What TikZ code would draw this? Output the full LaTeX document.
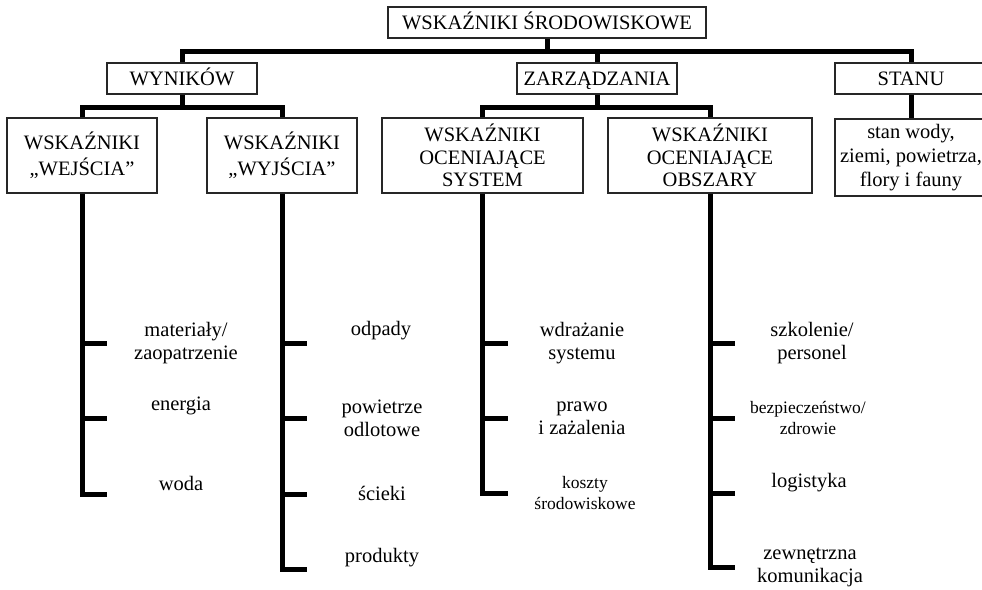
\documentclass[tikz,border=0pt]{standalone}
\usepackage{fontspec}
\setmainfont{Liberation Serif}
\begin{document}
\begin{tikzpicture}[x=1pt,y=-1pt,
  box/.style={draw=black!85, line width=1.3pt, align=center, inner sep=0pt, font=\fontsize{20.5}{24}\selectfont},
  onebox/.style={box, minimum height=31pt, text height=16.5pt, text depth=3pt},
  conn/.style={line width=5pt, line join=miter, line cap=butt},
  lbl/.style={align=center, inner sep=0pt, font=\fontsize{20.5}{23}\selectfont},
  slbl/.style={align=center, inner sep=0pt, font=\fontsize{17.5}{21}\selectfont}]
\useasboundingbox (0,0) rectangle (982,589);
\clip (0,0) rectangle (982,589);
% boxes
\node[onebox, minimum width=318pt] (root) at (547,22.5) {WSKAŹNIKI ŚRODOWISKOWE};
\node[onebox, minimum width=150pt] (wyn) at (182,78.5) {WYNIKÓW};
\node[onebox, minimum width=160pt] (zarz) at (597,78.5) {ZARZĄDZANIA};
\node[onebox, minimum width=152pt] (stanu) at (911,78.5) {STANU};
\node[box, minimum width=150pt, minimum height=75pt, font=\fontsize{20.5}{26}\selectfont] (wej) at (82,155.5) {WSKAŹNIKI\\„WEJŚCIA”};
\node[box, minimum width=150pt, minimum height=75pt, font=\fontsize{20.5}{26}\selectfont] (wyj) at (282,155.5) {WSKAŹNIKI\\„WYJŚCIA”};
\node[box, minimum width=201pt, minimum height=75pt, font=\fontsize{20.5}{22.5}\selectfont] (sys) at (482.5,155.5) {WSKAŹNIKI\\OCENIAJĄCE\\SYSTEM};
\node[box, minimum width=204pt, minimum height=75pt, font=\fontsize{20.5}{22.5}\selectfont] (obs) at (710,155.5) {WSKAŹNIKI\\OCENIAJĄCE\\OBSZARY};
\node[box, minimum width=152pt, minimum height=77pt] (stan) at (911,157.5) {stan wody,\\ziemi, powietrza,\\flory i fauny};
% bus coordinates
\coordinate (bus) at (0,51);
\coordinate (busw) at (0,107);
\coordinate (busz) at (0,107);
% top level connectors
\draw[conn] (wyn.north) -- (wyn.north |- bus) -- (stanu.north |- bus) -- (stanu.north);
\draw[conn] (root.south) -- (root.south |- bus);
\draw[conn] (zarz.north) -- (zarz.north |- bus);
\draw[conn] (wyn.south) -- (wyn.south |- busw);
\draw[conn] (wej.north) -- (wej.north |- busw) -- (wyj.north |- busw) -- (wyj.north);
\draw[conn] (zarz.south) -- (zarz.south |- busz);
\draw[conn] (sys.north) -- (sys.north |- busz) -- (obs.north |- busz) -- (obs.north);
\draw[conn] (stanu.south) -- (stan.north);
% leaf tick ends
\coordinate (a1) at (107,343); \coordinate (a2) at (107,418); \coordinate (a3) at (107,494);
\coordinate (b1) at (307,343); \coordinate (b2) at (307,418); \coordinate (b3) at (307,494); \coordinate (b4) at (307,569);
\coordinate (c1) at (508,343); \coordinate (c2) at (508,418); \coordinate (c3) at (508,493);
\coordinate (d1) at (735,343); \coordinate (d2) at (735,418); \coordinate (d3) at (735,493); \coordinate (d4) at (735,567);
\draw[conn] (wej.south) |- (a3);
\draw[conn] (wej.south |- a1) -- (a1);
\draw[conn] (wej.south |- a2) -- (a2);
\draw[conn] (wyj.south) |- (b4);
\draw[conn] (wyj.south |- b1) -- (b1);
\draw[conn] (wyj.south |- b2) -- (b2);
\draw[conn] (wyj.south |- b3) -- (b3);
\draw[conn] (sys.south) |- (c3);
\draw[conn] (sys.south |- c1) -- (c1);
\draw[conn] (sys.south |- c2) -- (c2);
\draw[conn] (obs.south) |- (d4);
\draw[conn] (obs.south |- d1) -- (d1);
\draw[conn] (obs.south |- d2) -- (d2);
\draw[conn] (obs.south |- d3) -- (d3);
% labels
\node[lbl] (la1) at (186,343) {materiały/\\zaopatrzenie};
\node[lbl] (la2) at (181,406) {energia};
\node[lbl] (la3) at (181,483) {woda};
\node[lbl] (lb1) at (381,331) {odpady};
\node[lbl] (lb2) at (382,418) {powietrze\\odlotowe};
\node[lbl] (lb3) at (382,493) {ścieki};
\node[lbl] (lb4) at (382,558) {produkty};
\node[lbl] (lc1) at (582,343) {wdrażanie\\systemu};
\node[lbl] (lc2) at (582,418) {prawo\\i zażalenia};
\node[slbl] (lc3) at (585,493) {koszty\\środowiskowe};
\node[lbl] (ld1) at (812,343) {szkolenie/\\personel};
\node[slbl] (ld2) at (808,418) {bezpieczeństwo/\\zdrowie};
\node[lbl] (ld3) at (809,483) {logistyka};
\node[lbl] (ld4) at (810,567) {zewnętrzna\\komunikacja};
\end{tikzpicture}
\end{document}
